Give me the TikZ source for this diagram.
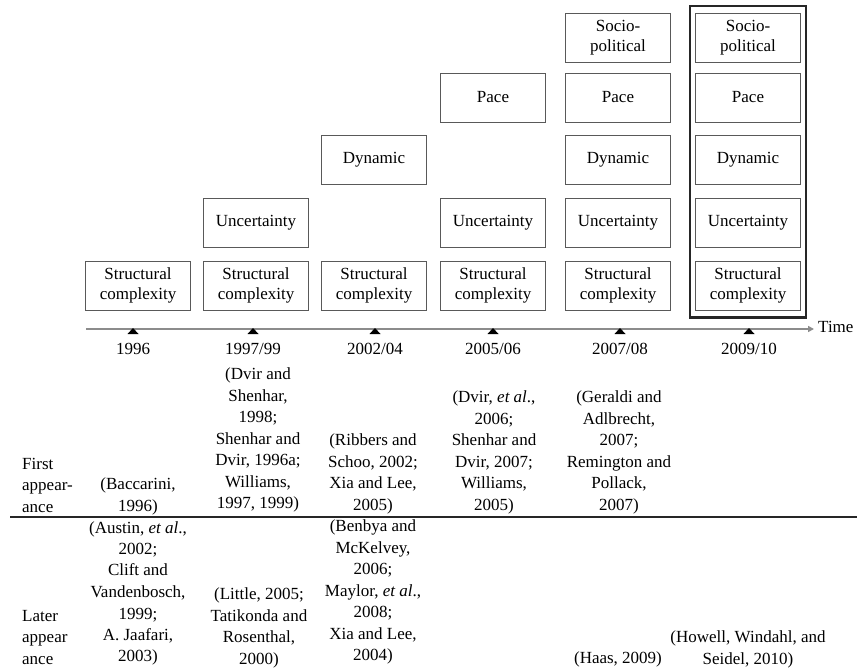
\documentclass[tikz,border=0pt]{standalone}
\usepackage{fontspec}
\setmainfont{Liberation Serif}
\usetikzlibrary{arrows.meta,fit}
\begin{document}
\begin{tikzpicture}[x=1pt,y=-1pt,
  txt/.style={font=\fontsize{17}{21.5}\selectfont, inner sep=0pt, align=center, text=black},
  box/.style={txt, font=\fontsize{17}{20}\selectfont, draw=black!65, line width=0.9pt, minimum width=105pt, minimum height=49pt},
  frame/.style={draw=black!85, line width=2.2pt, inner xsep=5pt, inner ysep=7pt},
  axis/.style={draw=black!45, line width=1.6pt},
  sep/.style={draw=black!85, line width=1.6pt},
  cite/.style={txt, anchor=north},
  lab/.style={txt, anchor=north west, align=left}]
\useasboundingbox (0,0) rectangle (857,671);
% boxes
\node[box] (sc1) at (138,285.5) {Structural\\complexity};
\node[box] (sc2) at (256,285.5) {Structural\\complexity};
\node[box] (sc3) at (374,285.5) {Structural\\complexity};
\node[box] (sc4) at (493,285.5) {Structural\\complexity};
\node[box] (sc5) at (618,285.5) {Structural\\complexity};
\node[box] (sc6) at (748,285.5) {Structural\\complexity};
\node[box] (un2) at (256,223) {Uncertainty};
\node[box] (un4) at (493,223) {Uncertainty};
\node[box] (un5) at (618,223) {Uncertainty};
\node[box] (un6) at (748,223) {Uncertainty};
\node[box] (dy3) at (374,160) {Dynamic};
\node[box] (dy5) at (618,160) {Dynamic};
\node[box] (dy6) at (748,160) {Dynamic};
\node[box] (pa4) at (493,97.5) {Pace};
\node[box] (pa5) at (618,97.5) {Pace};
\node[box] (pa6) at (748,97.5) {Pace};
\node[box] (so5) at (618,38) {Socio-\\political};
\node[box] (so6) at (748,38) {Socio-\\political};
\node[frame, fit=(sc6)(so6)] (fr) {};
% axis
\coordinate (axL) at (86,329);
\coordinate (axR) at (814,329);
\draw[axis,-{Triangle[length=6pt,width=6pt]}] (axL) -- (axR);
\node[txt, anchor=west] (time) at (818,327) {Time};
\foreach \x/\yr/\n in {133/1996/1, 253/1997\slash 99/2, 375/2002\slash 04/3, 493/2005\slash 06/4, 620/2007\slash 08/5, 749/2009\slash 10/6}{
  \fill[black] (\x-5.5,334) -- (\x+5.5,334) -- (\x,328) -- cycle;
  \node[txt] (y\n) at (\x,349) {\yr};
}
% first appearance
\node[lab] (fa) at (22,458) {First\\appear-\\ance};
\node[cite] (f1) at (138,478) {(Baccarini,\\1996)};
\node[cite] (f2) at (258,368) {(Dvir and\\Shenhar,\\1998;\\Shenhar and\\Dvir, 1996a;\\Williams,\\1997, 1999)};
\node[cite] (f3) at (373,434) {(Ribbers and\\Schoo, 2002;\\Xia and Lee,\\2005)};
\node[cite] (f4) at (494,391) {(Dvir, \textit{et al}.,\\2006;\\Shenhar and\\Dvir, 2007;\\Williams,\\2005)};
\node[cite] (f5) at (619,391) {(Geraldi and\\Adlbrecht,\\2007;\\Remington and\\Pollack,\\2007)};
% separator
\coordinate (sL) at (10,517);
\coordinate (sR) at (857,517);
\draw[sep] (sL) -- (sR);
% later appearance
\node[lab] (la) at (22,610) {Later\\appear\\ance};
\node[cite] (l1) at (138,521) {(Austin, \textit{et al}.,\\2002;\\Clift and\\Vandenbosch,\\1999;\\A. Jaafari,\\2003)};
\node[cite] (l2) at (259,588) {(Little, 2005;\\Tatikonda and\\Rosenthal,\\2000)};
\node[cite] (l3) at (373,520) {(Benbya and\\McKelvey,\\2006;\\Maylor, \textit{et al}.,\\2008;\\Xia and Lee,\\2004)};
\node[cite] (l5) at (618,652) {(Haas, 2009)};
\node[cite] (l6) at (748,631) {(Howell, Windahl, and\\Seidel, 2010)};
\end{tikzpicture}
\end{document}
